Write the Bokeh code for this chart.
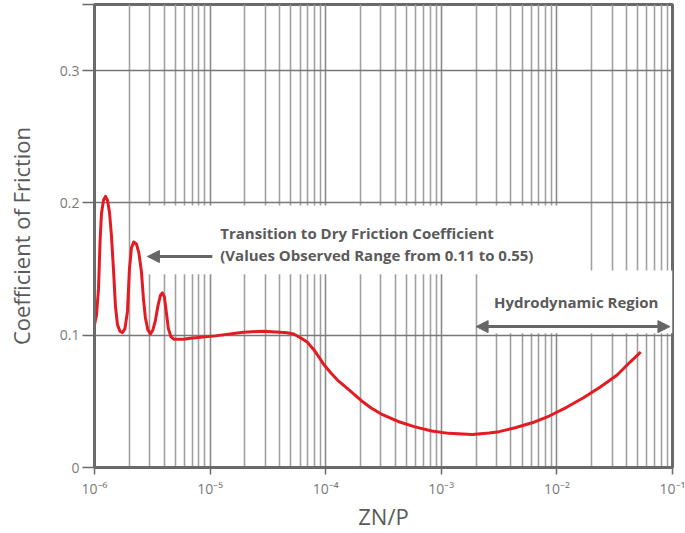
from bokeh.plotting import figure
from bokeh.models import (Range1d, FixedTicker, Label, Arrow, NormalHead)
from bokeh.embed import file_html
from bokeh.resources import INLINE

# ---- data ----
curve_x = [1.000e-6, 1.040e-6, 1.083e-6, 1.116e-6, 1.149e-6, 1.196e-6, 1.245e-6,
           1.295e-6, 1.348e-6, 1.402e-6, 1.459e-6, 1.518e-6, 1.580e-6, 1.660e-6,
           1.745e-6, 1.834e-6, 1.928e-6, 2.005e-6, 2.087e-6, 2.184e-6, 2.305e-6,
           2.423e-6, 2.546e-6, 2.649e-6, 2.757e-6, 2.897e-6, 3.045e-6, 3.200e-6,
           3.363e-6, 3.535e-6, 3.715e-6, 3.866e-6, 4.022e-6, 4.185e-6, 4.355e-6,
           4.577e-6, 4.861e-6, 5.870e-6, 6.745e-6, 1.109e-5, 1.935e-5, 2.880e-5,
           4.037e-5, 4.618e-5, 5.283e-5, 6.040e-5, 6.908e-5, 7.901e-5, 8.741e-5,
           9.666e-5, 1.105e-4, 1.264e-4, 1.546e-4, 2.022e-4, 2.474e-4, 3.026e-4,
           4.230e-4, 5.917e-4, 8.279e-4, 1.158e-3, 1.853e-3, 2.591e-3, 3.170e-3,
           4.434e-3, 6.201e-3, 8.674e-3, 1.213e-2, 1.697e-2, 2.374e-2, 3.320e-2,
           4.343e-2, 5.313e-2]
curve_y = [0.108, 0.115, 0.135, 0.170, 0.192, 0.202, 0.205,
           0.202, 0.193, 0.175, 0.150, 0.122, 0.108, 0.103,
           0.102, 0.105, 0.118, 0.150, 0.166, 0.1705, 0.169,
           0.162, 0.148, 0.128, 0.113, 0.104, 0.101, 0.104,
           0.111, 0.122, 0.130, 0.132, 0.129, 0.117, 0.105,
           0.099, 0.097, 0.097, 0.0977, 0.0995, 0.1023, 0.1030,
           0.1022, 0.1019, 0.1009, 0.0981, 0.0948, 0.0891, 0.0835,
           0.0776, 0.0717, 0.0661, 0.0596, 0.0507, 0.0450, 0.0404,
           0.0348, 0.0307, 0.0276, 0.0258, 0.0250, 0.0261, 0.0271,
           0.0302, 0.0340, 0.0391, 0.0455, 0.0527, 0.0609, 0.0699,
           0.0801, 0.0873]

x_major = [1e-6, 1e-5, 1e-4, 1e-3, 1e-2, 1e-1]
x_labels = ["10\u207b\u2076", "10\u207b\u2075", "10\u207b\u2074",
            "10\u207b\u00b3", "10\u207b\u00b2", "10\u207b\u00b9"]
x_minor_mult = [2, 3, 4, 5, 6, 7, 8, 9]
y_ticks = [0, 0.1, 0.2, 0.3, 0.35]
y_labels = ["0", "0.1", "0.2", "0.3", ""]

FONT = "Open Sans"
RED = "#e31b23"
DARK = "#5a5a5a"

p = figure(width=685, height=533, x_axis_type="log",
           x_range=Range1d(1e-6, 1e-1), y_range=Range1d(0, 0.35),
           output_backend="svg", toolbar_location=None,
           min_border_left=94, min_border_right=13, min_border_top=4,
           min_border_bottom=64)

p.outline_line_color = "#6a6a6a"
p.outline_line_width = 3
p.background_fill_color = "white"
p.border_fill_color = "white"

minor = [d * m for d in x_major[:-1] for m in x_minor_mult]
p.xaxis.ticker = FixedTicker(ticks=x_major, minor_ticks=minor)
p.xaxis.major_label_overrides = {t: l for t, l in zip(x_major, x_labels)}
p.yaxis.ticker = FixedTicker(ticks=y_ticks)
p.yaxis.major_label_overrides = {t: l for t, l in zip(y_ticks, y_labels)}

p.xgrid.grid_line_color = "#8a8a8a"
p.xgrid.grid_line_width = 1.6
p.xgrid.minor_grid_line_color = "#a0a0a0"
p.xgrid.minor_grid_line_width = 1.6
p.ygrid.grid_line_color = "#777777"
p.ygrid.grid_line_width = 1.6

for ax in (p.xaxis[0], p.yaxis[0]):
    ax.axis_line_color = "#6a6a6a"
    ax.axis_line_width = 3
    ax.major_tick_line_color = "#6a6a6a"
    ax.major_tick_line_width = 1.5
    ax.major_tick_in = 0
    ax.minor_tick_line_color = None
    ax.major_label_text_font = FONT
    ax.major_label_text_font_size = "14px"
    ax.major_label_text_color = "#7a7a7a"
    ax.axis_label_text_font = FONT
    ax.axis_label_text_font_size = "22px"
    ax.axis_label_text_font_style = "normal"
    ax.axis_label_text_color = DARK

p.xaxis.major_tick_out = 7
p.xaxis.major_label_standoff = 4
p.xaxis.axis_label = "ZN/P"
p.xaxis.axis_label_standoff = 0
p.yaxis.major_tick_out = 12
p.yaxis.major_label_standoff = 3
p.yaxis.axis_label = "Coefficient of Friction"
p.yaxis.axis_label_standoff = 21

# white boxes behind annotations (cover the grid)
p.quad(left=[2.3e-6, 2.1e-3], right=[1.85e-2, 1e-1],
       bottom=[0.146, 0.1015], top=[0.198, 0.149],
       fill_color="white", line_color=None)

p.line(curve_x, curve_y, line_color=RED, line_width=3, line_join="round")

# annotations
p.add_layout(Label(x=1.225e-5, y=0.1769, text="Transition to Dry Friction Coefficient",
                   text_font=FONT, text_font_size="15px", text_font_style="bold",
                   text_color=DARK, text_baseline="middle"))
p.add_layout(Label(x=1.225e-5, y=0.1610, text="(Values Observed Range from 0.11 to 0.55)",
                   text_font=FONT, text_font_size="15px", text_font_style="bold",
                   text_color=DARK, text_baseline="middle"))
p.add_layout(Arrow(end=NormalHead(size=12, fill_color="#666666", line_color="#666666"),
                   x_start=1.045e-5, y_start=0.1595, x_end=2.87e-6, y_end=0.1595,
                   line_color="#666666", line_width=3))

p.add_layout(Label(x=1.47e-2, y=0.125, text="Hydrodynamic Region",
                   text_font=FONT, text_font_size="15px", text_font_style="bold",
                   text_color=DARK, text_baseline="middle", text_align="center"))
p.add_layout(Arrow(start=NormalHead(size=12, fill_color="#666666", line_color="#666666"),
                   end=NormalHead(size=12, fill_color="#666666", line_color="#666666"),
                   x_start=2.0e-3, y_start=0.1065, x_end=9.5e-2, y_end=0.1065,
                   line_color="#666666", line_width=3))

open("out.html", "w").write(file_html(p, INLINE))
